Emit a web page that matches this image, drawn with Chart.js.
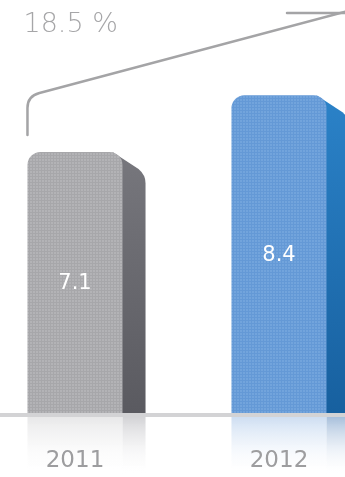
<!DOCTYPE html>
<html>
<head>
<meta charset="utf-8">
<script src="https://cdn.jsdelivr.net/npm/chart.js@4/dist/chart.umd.min.js"></script>
<style>
  html, body { margin: 0; padding: 0; background: #fff; }
  #frame { position: relative; width: 345px; height: 477px; overflow: hidden; }
  #box { position: absolute; left: -27px; top: 0; width: 408px; height: 477px; }
</style>
</head>
<body>
<div id="frame"><div id="box"><canvas id="myChart"></canvas></div></div>
<script>
// data
const years = ['2011', '2012'];
const values = [7.1, 8.4];
const growthLabel = '18.5 %';

const frontColors = ['#a7a7aa', '#6499d6'];
const dotColors = ['#b3b3b6', '#72a4dc'];
const sideTop = ['#77777d', '#2b82c8'];
const sideBottom = ['#5a5a60', '#17609f'];
const reflectColors = ['#e6e6e7', '#c9dbf1'];
const reflectSide = ['#cfcfd2', '#9fb9d8'];

const SIDE_W = 23;

function dots(base, dot) {
  const c = document.createElement('canvas');
  c.width = 3; c.height = 3;
  const g = c.getContext('2d');
  g.fillStyle = base;
  g.fillRect(0, 0, 3, 3);
  g.fillStyle = dot;
  g.fillRect(0, 0, 2, 2);
  return g.createPattern(c, 'repeat');
}

const sidesPlugin = {
  id: 'sides',
  beforeDatasetsDraw(chart) {
    const ctx = chart.ctx;
    const meta = chart.getDatasetMeta(0);
    const base = chart.chartArea.bottom;
    const H = chart.height;
    meta.data.forEach((bar, i) => {
      const xr = bar.x + bar.width / 2;
      const top = bar.y;
      // reflection below the base line
      let g = ctx.createLinearGradient(0, base, 0, H);
      g.addColorStop(0, reflectColors[i]);
      g.addColorStop(1, 'rgba(255,255,255,0)');
      ctx.fillStyle = g;
      ctx.fillRect(bar.x - bar.width / 2, base, bar.width, H - base);
      g = ctx.createLinearGradient(0, base, 0, H);
      g.addColorStop(0, reflectSide[i]);
      g.addColorStop(1, 'rgba(255,255,255,0)');
      ctx.fillStyle = g;
      ctx.fillRect(xr, base, SIDE_W, H - base);

      // side face
      g = ctx.createLinearGradient(0, top, 0, base);
      g.addColorStop(0, sideTop[i]);
      g.addColorStop(1, sideBottom[i]);
      ctx.save();
      ctx.beginPath();
      ctx.moveTo(xr - 10, top);
      ctx.lineTo(xr + SIDE_W - 7, top + SIDE_W - 6);
      ctx.quadraticCurveTo(xr + SIDE_W, top + SIDE_W, xr + SIDE_W, top + SIDE_W + 8);
      ctx.lineTo(xr + SIDE_W, base);
      ctx.lineTo(xr - 10, base);
      ctx.closePath();
      ctx.fillStyle = g;
      ctx.fill();
      ctx.restore();
    });
  },
  afterDatasetsDraw(chart) {
    const ctx = chart.ctx;
    const meta = chart.getDatasetMeta(0);
    const base = chart.chartArea.bottom;

    // base line
    ctx.fillStyle = '#d3d3d5';
    ctx.fillRect(0, base - 1, chart.width, 4);

    // value labels inside the bars
    ctx.save();
    ctx.fillStyle = '#ffffff';
    ctx.font = '21px "DejaVu Sans"';
    ctx.textAlign = 'center';
    ctx.textBaseline = 'middle';
    meta.data.forEach((bar, i) => {
      ctx.fillText(values[i].toFixed(1), bar.x, (bar.y + base) / 2 + 1);
    });

    // year labels under the base line
    ctx.fillStyle = '#9d9d9f';
    ctx.font = '23px "DejaVu Sans"';
    meta.data.forEach((bar, i) => {
      ctx.fillText(years[i], bar.x, base + 47);
    });

    // growth connector
    const b0 = meta.data[0];
    const b1 = meta.data[1];
    const x0 = b0.x - b0.width / 2;
    ctx.strokeStyle = '#a4a4a6';
    ctx.lineWidth = 2.5;
    ctx.lineCap = 'round';
    ctx.beginPath();
    ctx.moveTo(x0, b0.y - 17);
    ctx.lineTo(x0, b0.y - 44);
    ctx.quadraticCurveTo(x0, b0.y - 56, x0 + 12, b0.y - 59);
    ctx.lineTo(chart.width, b1.y - 93);
    ctx.stroke();
    ctx.beginPath();
    ctx.moveTo(b1.x + 8, 13);
    ctx.lineTo(chart.width, 13);
    ctx.stroke();

    ctx.fillStyle = '#a6a6a8';
    ctx.font = '200 27px "DejaVu Sans"';
    ctx.textAlign = 'left';
    ctx.textBaseline = 'alphabetic';
    ctx.fillText(growthLabel, x0 - 4, 32);
    ctx.restore();
  }
};

const myChart = document.getElementById('myChart');
const ctx0 = myChart.getContext('2d');

new Chart(myChart, {
  type: 'bar',
  data: {
    labels: years,
    datasets: [{
      data: values,
      backgroundColor: frontColors.map((c, i) => dots(c, dotColors[i])),
      borderWidth: 0,
      borderRadius: { topLeft: 13, topRight: 13, bottomLeft: 0, bottomRight: 0 },
      borderSkipped: false,
      categoryPercentage: 1,
      barPercentage: 0.466
    }]
  },
  options: {
    responsive: true,
    maintainAspectRatio: false,
    devicePixelRatio: 1,
    animation: false,
    layout: { padding: { top: 0, bottom: 63, left: 0, right: 0 } },
    plugins: { legend: { display: false }, tooltip: { enabled: false } },
    scales: {
      x: { display: false },
      y: { display: false, min: 1.1, max: 10.58 }
    }
  },
  plugins: [sidesPlugin]
});
</script>
</body>
</html>
